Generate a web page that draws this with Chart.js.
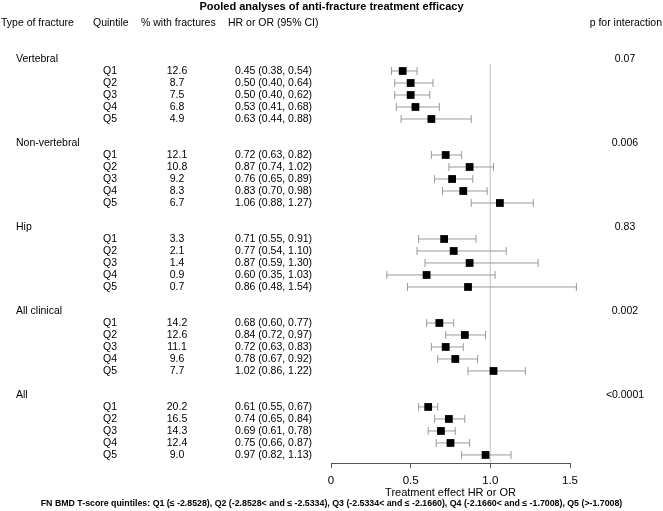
<!DOCTYPE html>
<html>
<head>
<meta charset="utf-8">
<script src="https://cdn.jsdelivr.net/npm/chart.js@4.4.1/dist/chart.umd.min.js"></script>
<style>
  html, body { margin: 0; padding: 0; background: #fff; }
  #wrap { width: 663px; height: 511px; }
</style>
</head>
<body>
<div id="wrap"><canvas id="forest"></canvas></div>
<script>
// forest plot data
const groups = ['Vertebral', 'Non-vertebral', 'Hip', 'All clinical', 'All'];
const pInteraction = ['0.07', '0.006', '0.83', '0.002', '<0.0001'];
const quintiles = ['Q1', 'Q2', 'Q3', 'Q4', 'Q5'];
const pctFractures = [
    [12.6, 8.7, 7.5, 6.8, 4.9],
    [12.1, 10.8, 9.2, 8.3, 6.7],
    [3.3, 2.1, 1.4, 0.9, 0.7],
    [14.2, 12.6, 11.1, 9.6, 7.7],
    [20.2, 16.5, 14.3, 12.4, 9.0]
];
const effect = [
    [0.45, 0.50, 0.50, 0.53, 0.63],
    [0.72, 0.87, 0.76, 0.83, 1.06],
    [0.71, 0.77, 0.87, 0.60, 0.86],
    [0.68, 0.84, 0.72, 0.78, 1.02],
    [0.61, 0.74, 0.69, 0.75, 0.97]
];
const ciLow = [
    [0.38, 0.40, 0.40, 0.41, 0.44],
    [0.63, 0.74, 0.65, 0.70, 0.88],
    [0.55, 0.54, 0.59, 0.35, 0.48],
    [0.60, 0.72, 0.63, 0.67, 0.86],
    [0.55, 0.65, 0.61, 0.66, 0.82]
];
const ciHigh = [
    [0.54, 0.64, 0.62, 0.68, 0.88],
    [0.82, 1.02, 0.89, 0.98, 1.27],
    [0.91, 1.10, 1.30, 1.03, 1.54],
    [0.77, 0.97, 0.83, 0.92, 1.22],
    [0.67, 0.84, 0.78, 0.87, 1.13]
];
const xTicks = [0, 0.5, 1, 1.5];
const headers = ['Type of fracture', 'Quintile', '% with fractures', 'HR or OR (95% CI)', 'p for interaction'];
const title = 'Pooled analyses of anti-fracture treatment efficacy';
const axisTitle = 'Treatment effect HR or OR';
const footnote = 'FN BMD T-score quintiles: Q1 (\u2264 -2.8528), Q2 (-2.8528< and \u2264 -2.5334), Q3 (-2.5334< and \u2264 -2.1660), Q4 (-2.1660< and \u2264 -1.7008), Q5 (>-1.7008)';

// each group takes 7 rows: heading, 5 quintiles, blank
const groupRow = g => g * 7;
const quintRow = (g, q) => g * 7 + 1 + q;

const points = [];
groups.forEach((name, g) => {
    quintiles.forEach((qn, q) => {
        points.push({ x: effect[g][q], y: quintRow(g, q), lo: ciLow[g][q], hi: ciHigh[g][q] });
    });
});

const FONT = '"Liberation Sans", Arial, sans-serif';

const errorBars = {
    id: 'errorBars',
    beforeDatasetDraw(chart, args) {
        if (args.index !== 0) return;
        const { ctx, scales: { x, y } } = chart;
        ctx.save();
        ctx.strokeStyle = '#9a9a9a';
        ctx.lineWidth = 1;
        points.forEach(p => {
            const py = y.getPixelForValue(p.y);
            const x0 = x.getPixelForValue(p.lo);
            const x1 = x.getPixelForValue(p.hi);
            ctx.beginPath();
            ctx.moveTo(x0, py); ctx.lineTo(x1, py);
            ctx.moveTo(x0, py - 4); ctx.lineTo(x0, py + 4);
            ctx.moveTo(x1, py - 4); ctx.lineTo(x1, py + 4);
            ctx.stroke();
        });
        ctx.restore();
    }
};

const tableText = {
    id: 'tableText',
    afterDraw(chart) {
        const { ctx, scales: { y }, width } = chart;
        ctx.save();
        ctx.fillStyle = '#000';
        ctx.textBaseline = 'middle';

        ctx.font = 'bold 11px ' + FONT;
        ctx.textAlign = 'center';
        ctx.fillText(title, width / 2, 7);

        ctx.font = '10.5px ' + FONT;
        const hy = y.getPixelForValue(-3);
        ctx.textAlign = 'left';
        ctx.fillText(headers[0], 1, hy);
        ctx.fillText(headers[1], 93, hy);
        ctx.fillText(headers[2], 141, hy);
        ctx.fillText(headers[3], 228, hy);
        ctx.textAlign = 'right';
        ctx.fillText(headers[4], 662, hy);

        groups.forEach((name, g) => {
            const gy = y.getPixelForValue(groupRow(g));
            ctx.textAlign = 'left';
            ctx.fillText(name, 16, gy);
            ctx.textAlign = 'center';
            ctx.fillText(pInteraction[g], 625, gy);
            quintiles.forEach((qn, q) => {
                const ry = y.getPixelForValue(quintRow(g, q));
                ctx.textAlign = 'left';
                ctx.fillText(qn, 103, ry);
                ctx.textAlign = 'center';
                ctx.fillText(pctFractures[g][q].toFixed(1), 177, ry);
                ctx.textAlign = 'left';
                ctx.fillText(effect[g][q].toFixed(2) + ' (' + ciLow[g][q].toFixed(2) + ', ' + ciHigh[g][q].toFixed(2) + ')', 235, ry);
            });
        });

        ctx.font = 'bold 8.8px ' + FONT;
        ctx.textAlign = 'center';
        ctx.fillText(footnote, width / 2, 504);
        ctx.restore();
    }
};

new Chart(document.getElementById('forest'), {
    type: 'scatter',
    data: {
        datasets: [{
            data: points,
            pointStyle: 'rect',
            pointRadius: 5.5,
            backgroundColor: '#000',
            borderColor: '#000',
            borderWidth: 0
        }, {
            type: 'line',
            data: [{ x: 1, y: 0.4 }, { x: 1, y: 33.67 }],
            borderColor: '#d4d4d4',
            borderWidth: 1.5,
            pointRadius: 0
        }]
    },
    options: {
        responsive: true,
        maintainAspectRatio: false,
        animation: false,
        events: [],
        layout: { padding: { top: 23, bottom: 8, left: 331, right: 93 } },
        plugins: {
            legend: { display: false },
            tooltip: { enabled: false }
        },
        scales: {
            x: {
                type: 'linear',
                min: 0,
                max: 1.5,
                afterBuildTicks: scale => { scale.ticks = xTicks.map(v => ({ value: v })); },
                afterFit: scale => { scale.height = 40; },
                grid: { drawOnChartArea: false, drawTicks: true, tickLength: 5, color: '#555' },
                border: { display: true, color: '#555', width: 1 },
                ticks: { color: '#000', padding: 6, font: { family: FONT, size: 11.5 } },
                title: {
                    display: true,
                    text: axisTitle,
                    color: '#000',
                    padding: { top: 0, bottom: 3 },
                    font: { family: FONT, size: 11 }
                }
            },
            y: {
                type: 'linear',
                display: false,
                reverse: true,
                min: -3,
                max: 33.67
            }
        }
    },
    plugins: [errorBars, tableText]
});
</script>
</body>
</html>
